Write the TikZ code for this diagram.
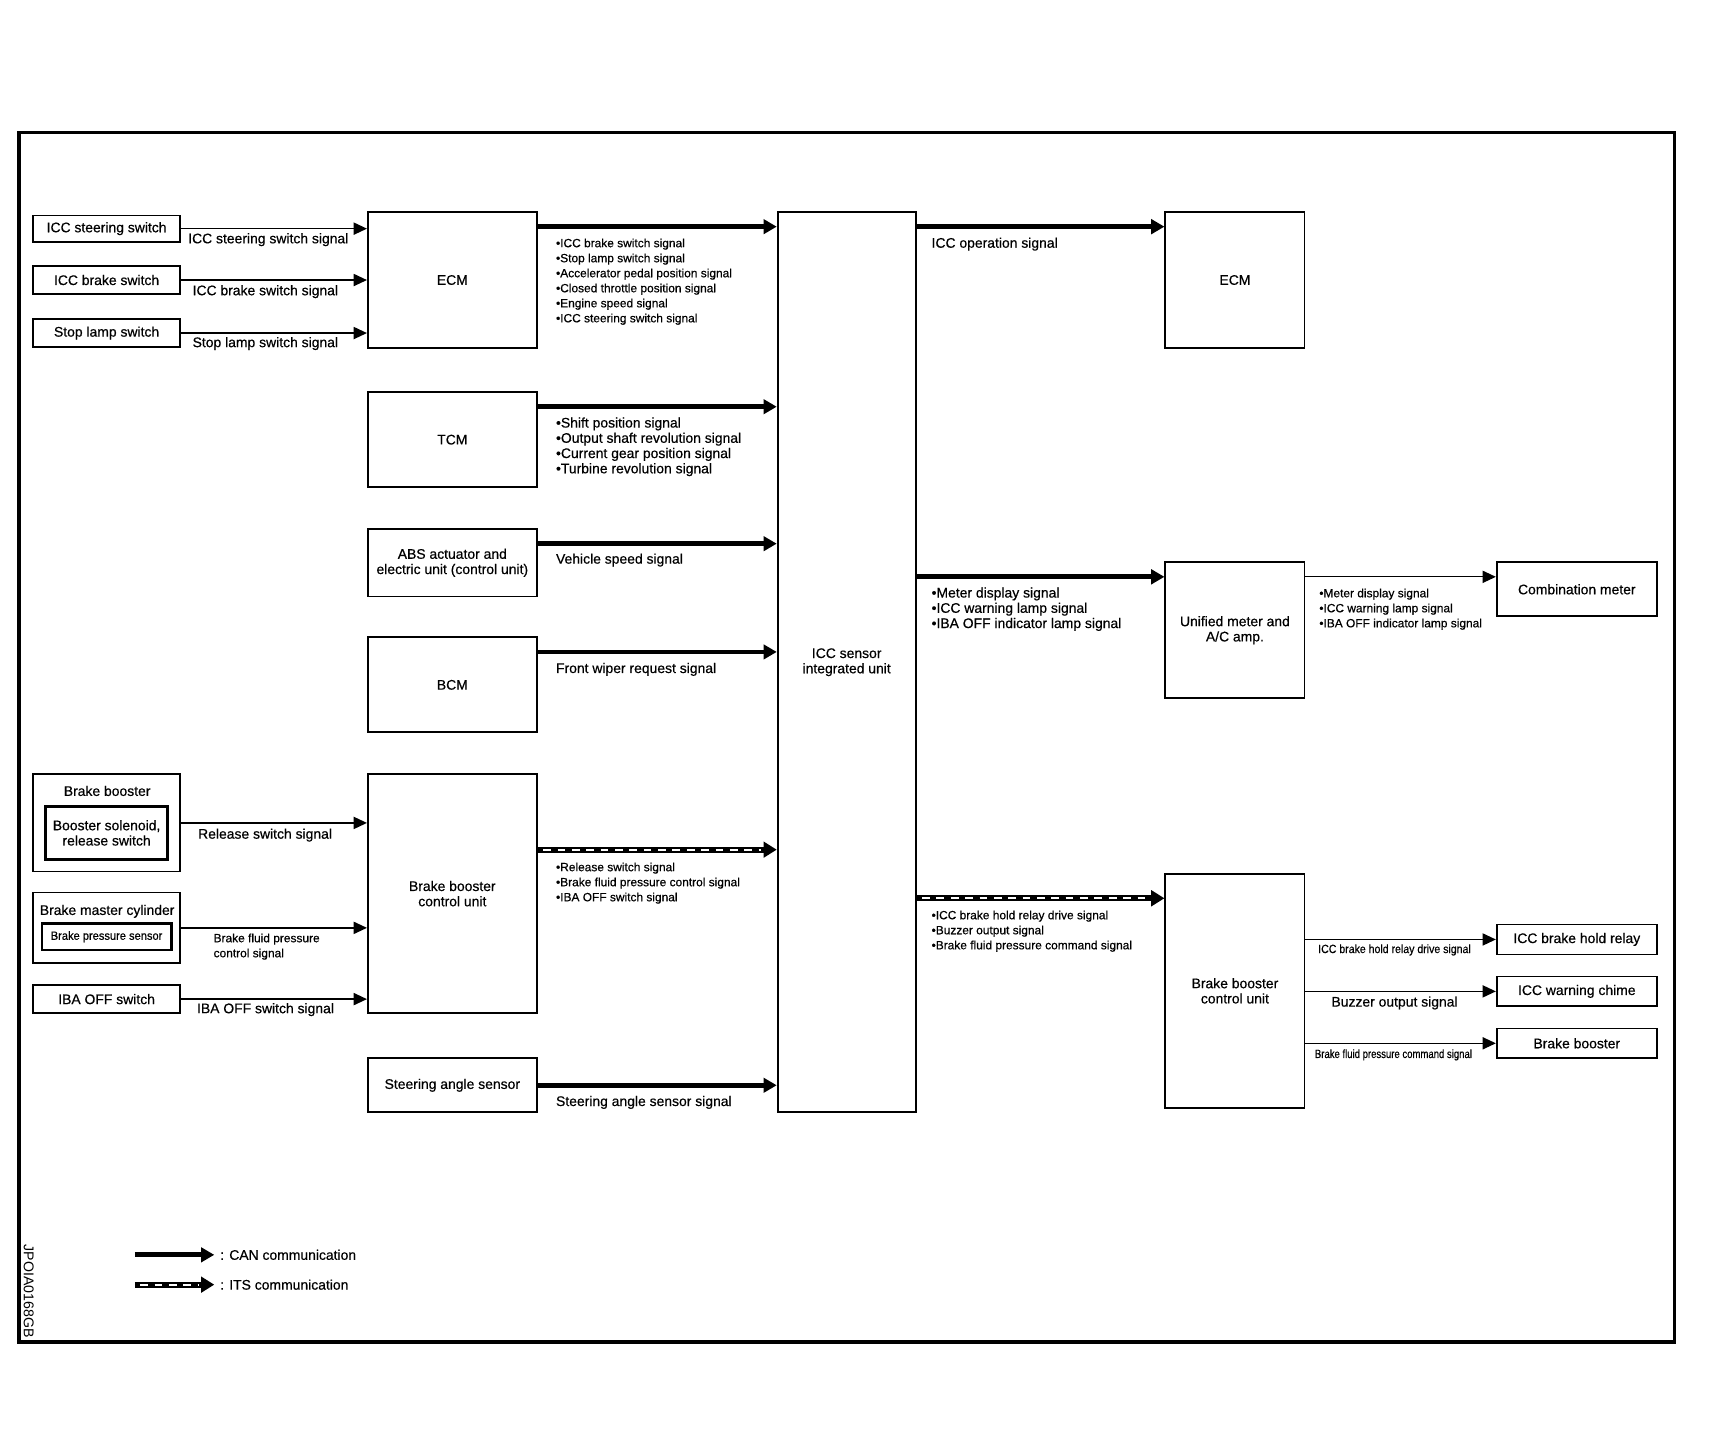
\documentclass[tikz,border=0pt]{standalone}
\usepackage{fontspec}
\usepackage{graphicx}
\setmainfont{Liberation Sans}[BoldFont={Liberation Sans},BoldFeatures={FakeBold=0.5}]
\usetikzlibrary{arrows.meta,calc,fit}
\newcommand\lab{\fontsize{6.3}{6.9}\selectfont\bfseries}
\newcommand\sml{\fontsize{5.4}{6.8}\selectfont\bfseries}
\tikzset{
  box/.style={draw, line width=0.8pt, inner sep=0pt},
  ibox/.style={draw, line width=1.3pt, inner sep=0pt},
  boxtxt/.style={inner sep=0pt, align=center, font=\lab},
  txt/.style={inner sep=0pt, anchor=west, align=left, font=\lab},
  stxt/.style={inner sep=0pt, anchor=west, align=left, font=\sml},
  thinarr/.style={line width=0.6pt, -{Triangle[length=6pt,width=5.5pt]}},
  canarr/.style={line width=2.2pt, -{Triangle[length=6pt,width=6.5pt]}},
  itsarr/.style={line width=2.6pt, -{Triangle[length=6pt,width=7pt]}},
  itsdash/.style={white, line width=1pt, dash pattern=on 3.5pt off 3pt, shorten >=7pt, shorten <=2.5pt},
}
% box with centred text: [style]{name}{x1}{y1}{x2}{y2}{text}
\newcommand\bx[7][box]{%
  \node[#1, fit={(#3,#4)(#5,#6)}] (#2) {};
  \node[boxtxt] (#2-t) at (#2.center) {#7};}
\begin{document}
\begin{tikzpicture}[x=0.5pt,y=-0.5pt]
\useasboundingbox (0,0) rectangle (1568,1318);
\draw[line width=1.6pt] (17,120) rectangle (1516,1215);

% left inputs
\bx{ssw}{30}{195}{163}{219}{ICC steering switch}
\bx{bsw}{30}{241}{163}{266}{ICC brake switch}
\bx{slsw}{30}{289}{163}{314}{Stop lamp switch}

\node[box, fit={(30,701)(163,789)}] (bbg) {};
\node[boxtxt] (bbgt) at (97,716) {Brake booster};
\bx[ibox]{sol}{41}{730}{152}{778}{Booster solenoid,\\release switch}
\node[box, fit={(30,808)(163,872)}] (bmc) {};
\node[boxtxt] (bmct) at (97,825) {Brake master cylinder};
\bx[ibox]{bps}{38}{836}{155}{860}{\sml\scalebox{0.93}[1]{Brake pressure sensor}}
\bx{iba}{30}{892}{163}{917}{IBA OFF switch}

% second column
\bx{ecm}{333}{192}{486}{315}{ECM}
\bx{tcm}{333}{355}{486}{441}{TCM}
\bx{abs}{333}{479}{486}{540}{ABS actuator and\\electric unit (control unit)}
\bx{bcm}{333}{577}{486}{663}{BCM}
\bx{bbl}{333}{701}{486}{917}{Brake booster\\control unit}
\bx{sas}{333}{958}{486}{1007}{Steering angle sensor}

% centre
\bx{icc}{704}{192}{829}{1007}{ICC sensor\\integrated unit}

% right
\bx{ecmr}{1055}{192}{1181}{315}{ECM}
\bx{umt}{1055}{509}{1181}{632}{Unified meter and\\A/C amp.}
\bx{bbr}{1055}{791}{1181}{1003}{Brake booster\\control unit}
\bx{cmb}{1355}{509}{1500}{558}{Combination meter}
\bx{hold}{1355}{837}{1500}{864}{ICC brake hold relay}
\bx{chime}{1355}{884}{1500}{911}{ICC warning chime}
\bx{bbo}{1355}{931}{1500}{958}{Brake booster}

% thin input arrows
\draw[thinarr] (ssw.east) -- (ssw.east -| ecm.west);
\draw[thinarr] (bsw.east) -- (bsw.east -| ecm.west);
\draw[thinarr] (slsw.east) -- (slsw.east -| ecm.west);
\draw[thinarr] (bbg.east) -- (bbg.east -| bbl.west);
\draw[thinarr] (bmc.east) -- (bmc.east -| bbl.west);
\draw[thinarr] (iba.east) -- (iba.east -| bbl.west);

% CAN arrows into ICC unit
\path ($(ecm.north east)+(0,14)$) coordinate (e1);
\draw[canarr] (e1) -- (e1 -| icc.west);
\path ($(tcm.north east)+(0,14)$) coordinate (e2);
\draw[canarr] (e2) -- (e2 -| icc.west);
\path ($(abs.north east)+(0,14)$) coordinate (e3);
\draw[canarr] (e3) -- (e3 -| icc.west);
\path ($(bcm.north east)+(0,14)$) coordinate (e4);
\draw[canarr] (e4) -- (e4 -| icc.west);
\draw[canarr] (sas.east) -- (sas.east -| icc.west);
% ITS into ICC unit
\path ($(bbl.north east)+(0,69)$) coordinate (e5);
\draw[itsarr] (e5) -- (e5 -| icc.west);
\draw[itsdash] (e5) -- (e5 -| icc.west);

% outputs of ICC unit
\path ($(ecmr.north west)+(0,14)$) coordinate (r1);
\draw[canarr] (r1 -| icc.east) -- (r1);
\path ($(umt.north west)+(0,14)$) coordinate (r2);
\draw[canarr] (r2 -| icc.east) -- (r2);
\draw[thinarr] (r2 -| umt.east) -- (r2 -| cmb.west);
\path ($(bbr.north west)+(0,23)$) coordinate (r4);
\draw[itsarr] (r4 -| icc.east) -- (r4);
\draw[itsdash] (r4 -| icc.east) -- (r4);

% brake booster control unit outputs
\draw[thinarr] (hold.west -| bbr.east) -- (hold.west);
\draw[thinarr] (chime.west -| bbr.east) -- (chime.west);
\draw[thinarr] (bbo.west -| bbr.east) -- (bbo.west);

% labels
\node[txt] (l1) at (170,217) {ICC steering switch signal};
\node[txt] (l2) at (174,264) {ICC brake switch signal};
\node[txt] (l3) at (174,311) {Stop lamp switch signal};
\node[txt] (l10) at (179,756) {Release switch signal};
\node[stxt] (l11) at (193,857) {Brake fluid pressure\\control signal};
\node[txt] (l12) at (178,914) {IBA OFF switch signal};

\node[stxt] (l4) at (503,255) {•ICC brake switch signal\\•Stop lamp switch signal\\•Accelerator pedal position signal\\•Closed throttle position signal\\•Engine speed signal\\•ICC steering switch signal};
\node[txt] (l5) at (503,404.5) {•Shift position signal\\•Output shaft revolution signal\\•Current gear position signal\\•Turbine revolution signal};
\node[txt] (l6) at (503,507) {Vehicle speed signal};
\node[txt] (l7) at (503,606) {Front wiper request signal};
\node[stxt] (l8) at (503,799.5) {•Release switch signal\\•Brake fluid pressure control signal\\•IBA OFF switch signal};
\node[txt] (l9) at (503,998) {Steering angle sensor signal};

\node[txt] (m1) at (843,221) {ICC operation signal};
\node[txt] (m2) at (843,551.5) {•Meter display signal\\•ICC warning lamp signal\\•IBA OFF indicator lamp signal};
\node[stxt] (m3) at (1194,551.5) {•Meter display signal\\•ICC warning lamp signal\\•IBA OFF indicator lamp signal};
\node[stxt] (m4) at (843,843) {•ICC brake hold relay drive signal\\•Buzzer output signal\\•Brake fluid pressure command signal};
\node[stxt] (o1) at (1193,860) {\scalebox{0.885}[1]{ICC brake hold relay drive signal}};
\node[txt] (o2) at (1205,908) {Buzzer output signal};
\node[stxt] (o3) at (1190,955) {\scalebox{0.8}[1]{Brake fluid pressure command signal}};

% legend
\coordinate (lg1a) at (122,1136);
\coordinate (lg1b) at (194,1136);
\draw[canarr] (lg1a) -- (lg1b);
\node[txt] (lg1t) at (199,1136) {: CAN communication};
\coordinate (lg2a) at (122,1163);
\coordinate (lg2b) at (194,1163);
\draw[itsarr] (lg2a) -- (lg2b);
\draw[itsdash] (lg2a) -- (lg2b);
\node[txt] (lg2t) at (199,1163) {: ITS communication};

\node[font=\fontsize{6.4}{7}\selectfont, rotate=-90, inner sep=0pt] (code) at (26,1169) {JPOIA0168GB};
\end{tikzpicture}
\end{document}
